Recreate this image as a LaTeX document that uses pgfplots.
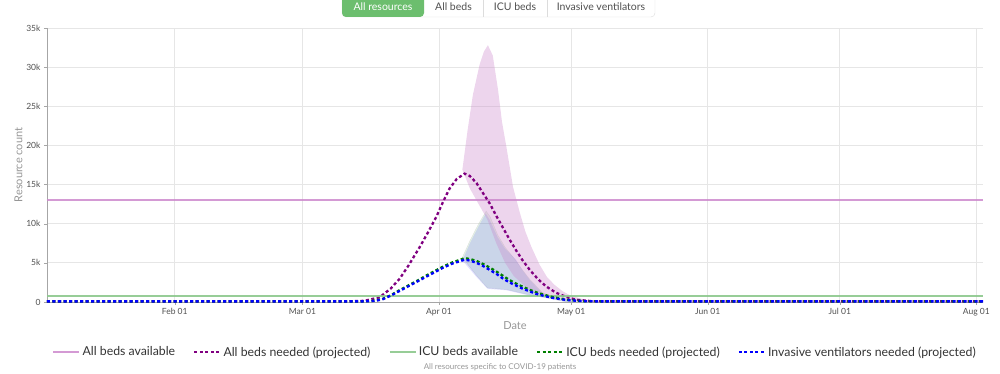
\documentclass[border=0pt]{standalone}
\usepackage{fontspec}
\setmainfont{Lato}
\usepackage{pgfplots}
\pgfplotsset{compat=1.18}
\definecolor{bedsavail}{RGB}{204,136,204}
\definecolor{bedsneed}{RGB}{128,0,128}
\definecolor{icuavail}{RGB}{140,200,140}
\definecolor{icuneed}{RGB}{0,128,0}
\definecolor{vent}{RGB}{0,0,255}
\definecolor{gridc}{RGB}{230,230,230}
\definecolor{tickc}{RGB}{80,80,80}
\definecolor{labelc}{RGB}{150,150,150}
\definecolor{btngreen}{RGB}{108,190,110}
\definecolor{btnborder}{RGB}{220,220,220}
\begin{document}
\begin{tikzpicture}[x=1pt,y=1pt]
\useasboundingbox (0,0) rectangle (1000,373);
% button bar
\begin{scope}[font=\fontsize{10.5}{12}\selectfont]
\draw[btnborder, fill=white, rounded corners=4pt] (342,356) rectangle (655,390);
\fill[btngreen, rounded corners=4pt] (342,356) rectangle (424,390);
\draw[btnborder] (483,356) -- (483,373);
\draw[btnborder] (547,356) -- (547,373);
\node[white] at (383,366) {All resources};
\node[tickc] at (453.5,366) {All beds};
\node[tickc] at (515,366) {ICU beds};
\node[tickc] at (601,366) {Invasive ventilators};
\end{scope}
\node[labelc, font=\fontsize{8}{9}\selectfont] at (500,5.5) {All resources specific to COVID-19 patients};
\begin{axis}[
  at={(47pt,71pt)}, anchor=south west,
  width=936pt, height=274pt, scale only axis,
  xmin=2, xmax=214.5, ymin=0, ymax=35000,
  axis x line*=bottom, axis y line*=left,
  axis line style={gray!70, -},
  xtick={31,60,91,121,152,182,213},
  xticklabels={Feb 01,Mar 01,Apr 01,May 01,Jun 01,Jul 01,Aug 01},
  ytick={0,5000,10000,15000,20000,25000,30000,35000},
  yticklabels={0,5k,10k,15k,20k,25k,30k,35k},
  scaled y ticks=false,
  tick align=outside, major tick length=3pt,
  tick style={gray!70},
  grid=major, major grid style={gridc, line width=0.8pt},
  ticklabel style={tickc, font=\fontsize{8.5}{9.5}\selectfont},
  xlabel={Date}, ylabel={Resource count},
  label style={labelc, font=\fontsize{11}{12}\selectfont},
  xlabel style={yshift=1pt},
  ylabel style={yshift=-3pt},
  legend style={at={(0.5,-0.1825)}, anchor=center, draw=none, fill=none,
    legend columns=5, font=\fontsize{12.3}{14}\selectfont, text=black!80,
    /tikz/every even column/.append style={column sep=16pt}},
  legend image code/.code={\draw[#1] (0pt,0pt) -- (26pt,0pt);},
]
% ICU band
\addplot[fill=icuavail, fill opacity=0.22, draw=gray!50, draw opacity=0.4, forget plot] coordinates {
(96.3,5700) (98,7800) (100,10000) (101.7,11600) (102.6,10900) (104.3,8600)
(106,7000) (108,5600) (109.8,4200) (111.6,2900) (114.5,1200) (117.6,550) (122,0)
(120,0) (115.4,550) (110.9,1000) (106.3,1600) (102,1800) (99.5,3400) (96.3,5700)} -- cycle;
% Ventilator band
\addplot[fill=vent, fill opacity=0.12, draw=none, forget plot] coordinates {
(96.3,5300) (98,7500) (100,9700) (101.6,11300) (102.5,10500) (104.3,8300)
(106,6800) (108.5,5400) (110,4000) (111.6,2800) (114.5,1100) (117.6,500) (121.8,0)
(120,0) (115.4,500) (110.9,900) (106.3,1500) (102,1700) (99.5,3200) (96.3,5300)} -- cycle;
% All beds needed band
\addplot[fill=bedsavail, fill opacity=0.35, draw=none, forget plot] coordinates {
(96.3,16900) (97.5,22000) (98.7,26500) (100.2,30300) (101.2,32000) (102.1,32800)
(103.2,31500) (104.4,27100) (105.3,23000) (106.3,19800) (107.8,14700) (109.3,11500)
(110.6,9000) (112,7000) (113.8,4800) (115.5,3200) (117.2,2200) (119,1400)
(120.6,900) (123,450) (125.2,200) (130,0)
(126,0) (120,250) (115,800) (111,1800) (108,3300) (106,5000) (104,7500)
(102,10500) (100,12500) (98,14500) (96.3,16900)} -- cycle;
% All beds available
\addplot[bedsavail, line width=2.4pt, opacity=0.85] coordinates {(2,13000) (214.5,13000)};
\addlegendentry{All beds available}
% All beds needed
\addplot[bedsneed, line width=2.3pt, dash pattern=on 3pt off 2.5pt] coordinates {
(2,80) (70,80) (74,150) (77.5,600) (80,1700) (82.1,3000) (84,4600) (86.6,7000)
(88.5,8900) (90.4,10900) (92,12900) (93.4,14500) (95,15700) (96.8,16400) (98,16100)
(99.5,15200) (101,13900) (102.5,12600) (104,11000) (105.4,9600) (107,8000)
(108.5,6600) (110,5300) (111.6,4100) (113.5,2900) (115.3,2000) (117.5,1200)
(119.9,650) (122,300) (125.8,100) (130,80) (214.5,80)};
\addlegendentry{All beds needed (projected)}
% ICU beds available
\addplot[icuavail, line width=2.4pt, opacity=0.9] coordinates {(2,800) (214.5,800)};
\addlegendentry{ICU beds available}
% ICU beds needed
\addplot[icuneed, line width=2.3pt, dash pattern=on 3pt off 2.5pt] coordinates {
(2,80) (74,80) (76,150) (78,350) (80,850) (82,1500) (84,2100) (86,2700) (88,3350)
(90,3950) (92,4550) (94,5050) (96.8,5600) (98,5500) (99.5,5250) (101,4850)
(102.5,4400) (104,3900) (105.5,3350) (107,2800) (108.5,2350) (110,1950)
(111.6,1550) (113,1250) (115,900) (117,600) (120,300) (124,100) (128,80) (214.5,80)};
\addlegendentry{ICU beds needed (projected)}
% Ventilators needed
\addplot[vent, line width=2.3pt, dash pattern=on 3pt off 2.5pt] coordinates {
(2,80) (74,80) (76,120) (78,300) (80,800) (82,1400) (84,2000) (86,2600) (88,3200)
(90,3800) (92,4400) (94,4900) (96.8,5400) (98,5300) (99.5,5000) (101,4600)
(102.5,4100) (104,3600) (105.5,3000) (107,2500) (108.5,2100) (110,1700)
(111.6,1350) (113,1050) (115,750) (117,500) (120,250) (124,90) (128,80) (214.5,80)};
\addlegendentry{Invasive ventilators needed (projected)}
\end{axis}
\end{tikzpicture}
\end{document}
